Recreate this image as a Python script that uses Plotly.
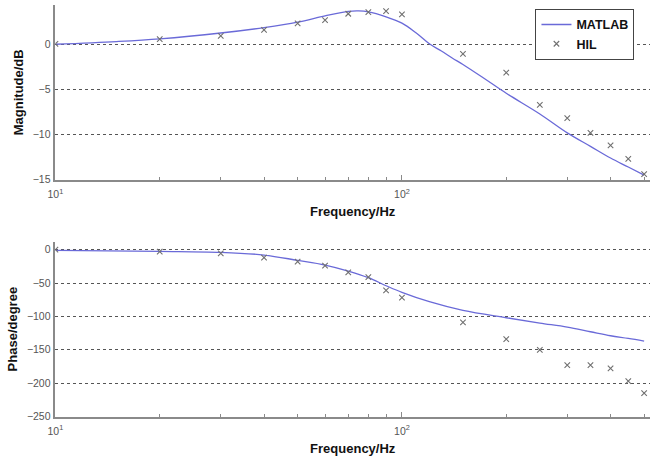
import numpy as np
import plotly.graph_objects as go

# ---- data ----
freq_hil = [10, 20, 30, 40, 50, 60, 70, 80, 90, 100, 150, 200, 250, 300, 350, 400, 450, 500]
mag_hil = [0.1, 0.62, 0.99, 1.64, 2.38, 2.74, 3.44, 3.62, 3.73, 3.37, -1.02, -3.1, -6.69, -8.15, -9.8, -11.2, -12.7, -14.4]
phase_hil = [0, -3, -5.5, -12, -18, -24, -34, -41, -61, -72, -109, -134, -150, -173, -173, -178, -197, -215]

freq_mag_matlab = [10, 15, 20, 30, 40, 50, 60, 70, 75, 80, 90, 100, 110, 120, 130, 140, 150, 175, 200, 250, 300, 350, 400, 450, 500]
mag_matlab = [0.05, 0.35, 0.65, 1.3, 1.9, 2.5, 3.2, 3.7, 3.75, 3.65, 3.1, 2.4, 1.3, 0.1, -0.7, -1.5, -2.2, -3.9, -5.4, -7.7, -9.8, -11.3, -12.6, -13.6, -14.5]

freq_ph_matlab = [10, 20, 30, 40, 50, 60, 70, 80, 90, 100, 120, 150, 200, 250, 300, 350, 400, 450, 500]
phase_matlab = [-1, -2.5, -4, -8, -16, -23, -32, -42, -54, -64, -78, -91, -102, -110, -116, -123, -129, -133, -137]

mag_ticks = [0, -5, -10, -15]
phase_ticks = [0, -50, -100, -150, -200, -250]
x_major = [10, 100]
x_major_text = ["10<sup>1</sup>", "10<sup>2</sup>"]
x_minor = [20, 30, 40, 50, 60, 70, 80, 90, 200, 300, 400, 500]

W, H = 653, 461
line_col = "#6a6ad8"
mark_col = "#707070"
axis_col = "#8a8a8a"
grid_col = "#555555"
tick_font = dict(family="Liberation Sans, Arial", size=10.5, color="#555555")
title_font = dict(family="Liberation Sans, Arial", size=13, color="#111111", weight="bold")

fig = go.Figure()
fig.add_trace(go.Scatter(x=freq_mag_matlab, y=mag_matlab, mode="lines", name="MATLAB",
                         line=dict(color=line_col, width=1.3, shape="spline"),
                         xaxis="x", yaxis="y"))
fig.add_trace(go.Scatter(x=freq_hil, y=mag_hil, mode="markers", name="HIL",
                         marker=dict(symbol="x-thin", size=5.5, line=dict(color=mark_col, width=1.1)),
                         xaxis="x", yaxis="y"))
fig.add_trace(go.Scatter(x=freq_ph_matlab, y=phase_matlab, mode="lines", name="MATLAB",
                         line=dict(color=line_col, width=1.3, shape="spline"), showlegend=False,
                         xaxis="x2", yaxis="y2"))
fig.add_trace(go.Scatter(x=freq_hil, y=phase_hil, mode="markers", name="HIL", showlegend=False,
                         marker=dict(symbol="x-thin", size=5.5, line=dict(color=mark_col, width=1.1)),
                         xaxis="x2", yaxis="y2"))

x0, x1 = 48 / W, 650 / W
xr = [1, np.log10(520)]

def xaxis(anchor):
    return dict(type="log", range=xr, domain=[x0, x1], anchor=anchor,
                showline=True, linecolor=axis_col, linewidth=1.5,
                showgrid=False, zeroline=False,
                tickmode="array", tickvals=x_major, ticktext=x_major_text,
                ticks="inside", ticklen=5, tickcolor=axis_col, tickwidth=1,
                tickfont=tick_font, ticklabelstandoff=4,
                minor=dict(tickmode="array", tickvals=x_minor, ticks="inside",
                           ticklen=3, tickcolor=axis_col, showgrid=False),
                title=dict(text="Frequency/Hz", font=title_font, standoff=8))

def yaxis(anchor, rng, ticks, dom, title):
    return dict(range=rng, domain=dom, anchor=anchor,
                showline=True, linecolor=axis_col, linewidth=1.5,
                showgrid=True, gridcolor=grid_col, griddash="dot", gridwidth=1,
                zeroline=False, tickmode="array", tickvals=ticks,
                ticks="", tickfont=tick_font, ticklabelstandoff=1,
                title=dict(text=title, font=title_font, standoff=6))

fig.update_layout(
    width=W, height=H, margin=dict(l=0, r=0, t=0, b=0),
    paper_bgcolor="white", plot_bgcolor="white",
    xaxis=xaxis("y"),
    yaxis=yaxis("x", [-15, 4.42], mag_ticks, [(H - 182) / H, (H - 5) / H], "Magnitude/dB"),
    xaxis2=xaxis("y2"),
    yaxis2=yaxis("x2", [-250, 11.8], phase_ticks, [(H - 422) / H, (H - 245) / H], "Phase/degree"),
    legend=dict(x=534 / W, y=(H - 9) / H, xanchor="left", yanchor="top",
                bgcolor="white", bordercolor="#444444", borderwidth=1,
                font=dict(family="Liberation Sans, Arial", size=12.5, color="#111111", weight="bold"),
                tracegroupgap=0, itemwidth=30),
    showlegend=True,
)

fig.write_html("out.html")
